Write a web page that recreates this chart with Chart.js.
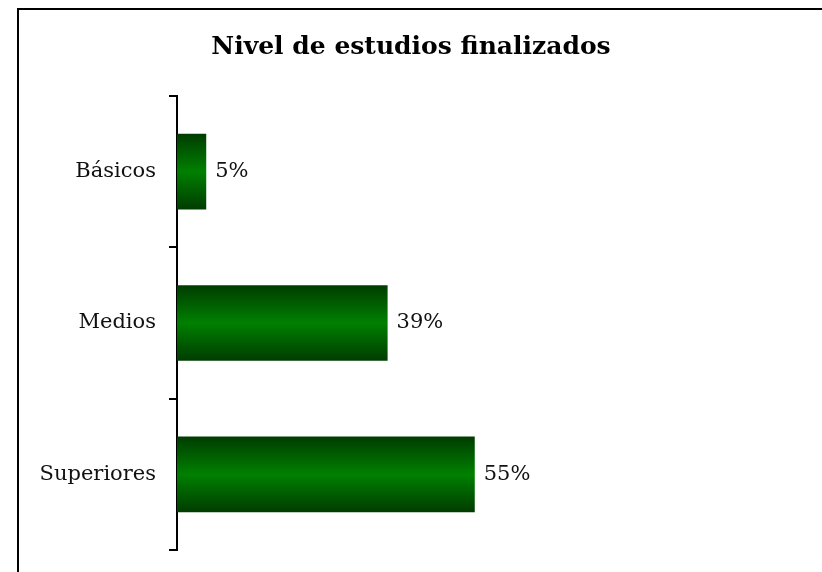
<!DOCTYPE html>
<html>
<head>
<meta charset="utf-8">
<script src="https://cdn.jsdelivr.net/npm/chart.js@4.4.1/dist/chart.umd.min.js"></script>
<style>
  html, body { margin: 0; padding: 0; background: #fff; overflow: hidden; }
  #wrap { position: relative; width: 822px; height: 572px; overflow: hidden; }
  #frame { position: absolute; left: 17px; top: 8px; width: 900px; height: 700px; border: 2px solid #000; box-sizing: border-box; }
  canvas { position: absolute; left: 0; top: 0; }
</style>
</head>
<body>
<div id="wrap">
  <div id="frame"></div>
  <canvas id="c" width="822" height="572"></canvas>
</div>
<script>
const categories = ['Básicos', 'Medios', 'Superiores'];
const percentages = [5.4, 38.9, 55];
const chartTitle = 'Nivel de estudios finalizados';
const xMax = 116;

const FONT = "'DejaVu Serif', 'Liberation Serif', serif";

const valueLabels = {
  id: 'valueLabels',
  afterDatasetsDraw(chart) {
    const ctx = chart.ctx;
    const meta = chart.getDatasetMeta(0);
    ctx.save();
    ctx.font = "21px " + FONT;
    ctx.fillStyle = '#111';
    ctx.textAlign = 'left';
    ctx.textBaseline = 'middle';
    meta.data.forEach((el, i) => {
      ctx.fillText(Math.round(percentages[i]) + '%', el.x + 9, el.y);
    });
    ctx.restore();
  }
};

function barGradient(c) {
  const chart = c.chart;
  const area = chart.chartArea;
  if (!area || c.dataIndex === undefined || !chart.scales.y) return '#006000';
  const y = chart.scales.y.getPixelForValue(c.dataIndex);
  const h = (area.bottom - area.top) / categories.length * 0.5;
  const g = chart.ctx.createLinearGradient(0, y - h / 2, 0, y + h / 2);
  g.addColorStop(0, '#003c00');
  g.addColorStop(0.5, '#008000');
  g.addColorStop(1, '#003c00');
  return g;
}

new Chart(document.getElementById('c'), {
  type: 'bar',
  data: {
    labels: categories,
    datasets: [{
      data: percentages,
      backgroundColor: barGradient,
      borderWidth: 0,
      barPercentage: 0.5,
      categoryPercentage: 1
    }]
  },
  options: {
    indexAxis: 'y',
    responsive: false,
    animation: false,
    layout: { padding: { left: 17, right: 17, top: 0, bottom: 22 } },
    plugins: {
      legend: { display: false },
      tooltip: { enabled: false },
      title: {
        display: true,
        text: chartTitle,
        color: '#000',
        font: { family: FONT, size: 25, weight: 'bold' },
        padding: { top: 32, bottom: 34 }
      }
    },
    scales: {
      x: { display: false, min: 0, max: xMax },
      y: {
        afterFit(scale) { scale.width = 160; scale.paddingTop = 0; scale.paddingBottom = 0; },
        grid: { display: true, drawOnChartArea: false, drawTicks: true, tickLength: 8, color: '#000', lineWidth: 2, offset: true },
        border: { display: true, color: '#000', width: 2 },
        ticks: { color: '#111', padding: 13, font: { family: FONT, size: 21 } }
      }
    }
  },
  plugins: [valueLabels]
});
</script>
</body>
</html>
